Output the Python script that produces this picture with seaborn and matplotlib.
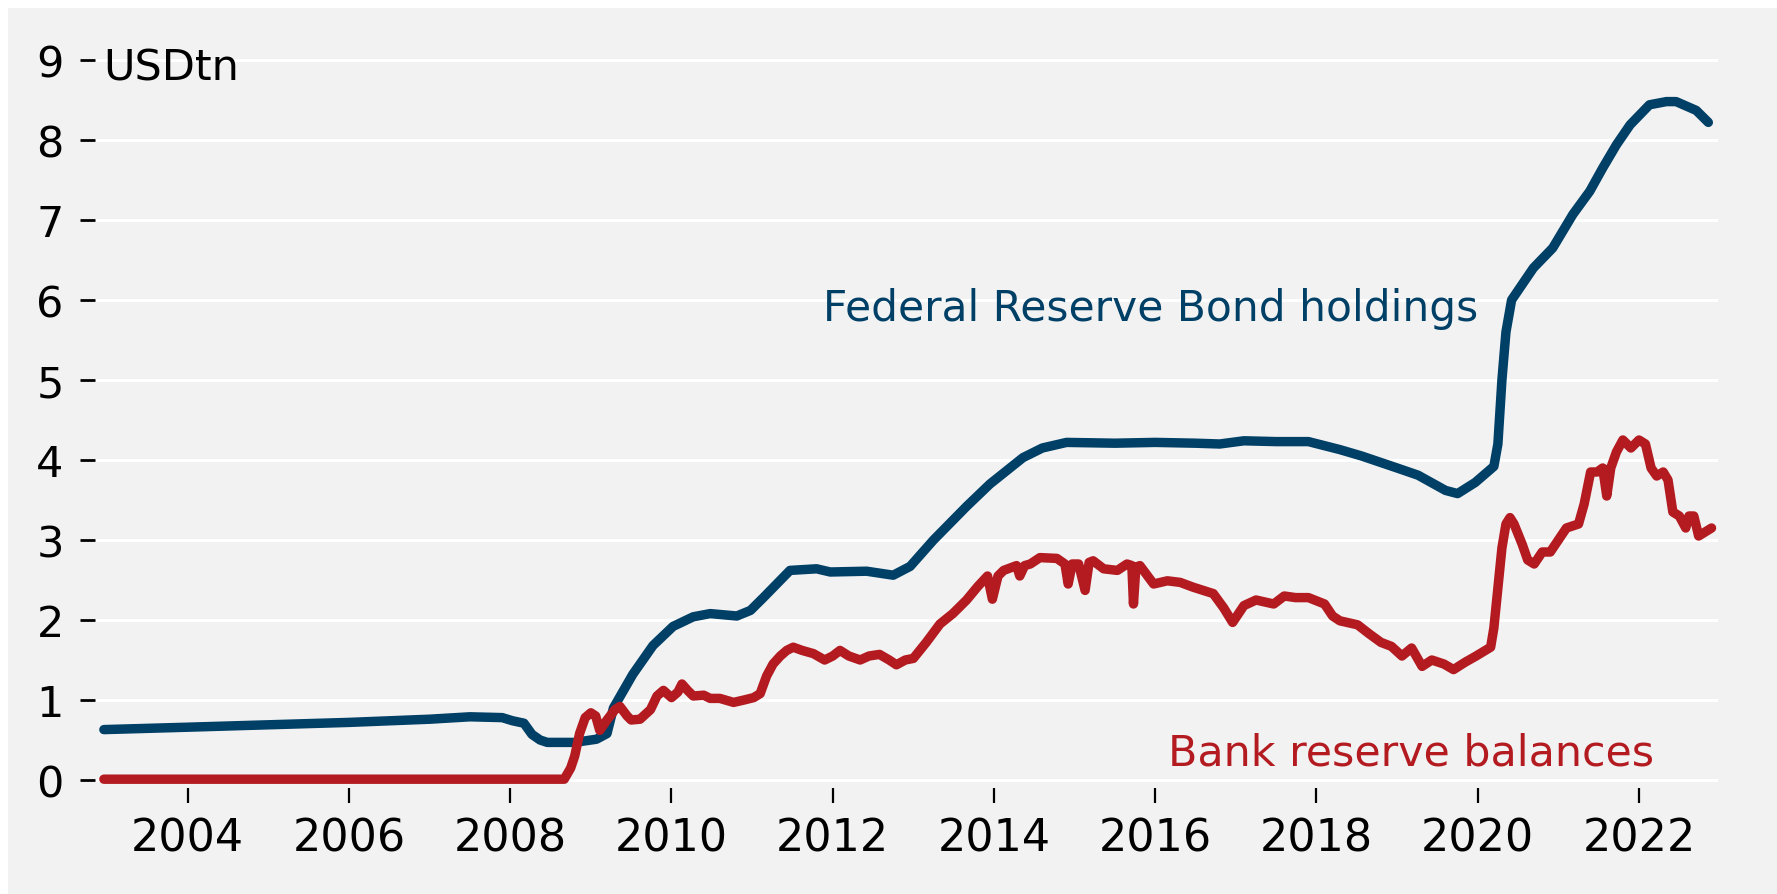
import matplotlib
matplotlib.use("Agg")
import matplotlib.pyplot as plt
import seaborn as sns
import pandas as pd
from matplotlib.patches import Rectangle

# ---- data (decimal years, USD trillion) ----
fed_years = [2002.96, 2004.0, 2005.0, 2006.0, 2007.0, 2007.5, 2007.9, 2008.03, 2008.17,
             2008.27, 2008.37, 2008.46, 2008.8, 2009.07, 2009.2, 2009.28, 2009.52, 2009.77,
             2010.02, 2010.27, 2010.48, 2010.81, 2010.98, 2011.14, 2011.47, 2011.8, 2011.97,
             2012.42, 2012.75, 2012.96, 2013.25, 2013.66, 2013.95, 2014.36, 2014.6, 2014.9,
             2015.5, 2016.0, 2016.5, 2016.8, 2017.1, 2017.5, 2017.9, 2018.29, 2018.56,
             2019.0, 2019.26, 2019.6, 2019.75, 2019.97, 2020.2, 2020.25, 2020.3, 2020.35,
             2020.42, 2020.69, 2020.93, 2021.18, 2021.39, 2021.55, 2021.72, 2021.89,
             2022.13, 2022.34, 2022.46, 2022.71, 2022.86]
fed_values = [0.63, 0.66, 0.69, 0.72, 0.76, 0.79, 0.78, 0.74, 0.71,
              0.57, 0.50, 0.47, 0.47, 0.51, 0.58, 0.90, 1.32, 1.68,
              1.92, 2.04, 2.08, 2.05, 2.12, 2.28, 2.62, 2.64, 2.60,
              2.61, 2.56, 2.67, 3.00, 3.42, 3.70, 4.03, 4.15, 4.22,
              4.21, 4.22, 4.21, 4.20, 4.24, 4.23, 4.23, 4.13, 4.05,
              3.90, 3.81, 3.62, 3.58, 3.72, 3.92, 4.20, 5.00, 5.60,
              6.00, 6.40, 6.65, 7.07, 7.36, 7.65, 7.94, 8.19,
              8.44, 8.48, 8.48, 8.37, 8.22]

bank_years = [2002.96, 2003.5, 2004.0, 2005.0, 2006.0, 2007.0, 2008.0, 2008.67, 2008.75,
              2008.80, 2008.86, 2008.93, 2009.00, 2009.06, 2009.11, 2009.20, 2009.30, 2009.36,
              2009.45, 2009.50, 2009.61, 2009.74, 2009.82, 2009.90, 2010.00, 2010.08, 2010.13,
              2010.20, 2010.27, 2010.40, 2010.48, 2010.60, 2010.77, 2010.90, 2011.02, 2011.10,
              2011.18, 2011.26, 2011.35, 2011.43, 2011.51, 2011.62, 2011.76, 2011.90, 2012.00,
              2012.09, 2012.20, 2012.34, 2012.45, 2012.58, 2012.70, 2012.79, 2012.90, 2013.00,
              2013.16, 2013.33, 2013.49, 2013.66, 2013.80, 2013.92, 2013.98, 2014.05, 2014.12,
              2014.28, 2014.32, 2014.38, 2014.45, 2014.57, 2014.78, 2014.88, 2014.92, 2014.97,
              2015.05, 2015.13, 2015.18, 2015.23, 2015.36, 2015.53, 2015.65, 2015.71, 2015.73,
              2015.76, 2015.81, 2015.98, 2016.15, 2016.31, 2016.47, 2016.72, 2016.85, 2016.96,
              2017.10, 2017.25, 2017.47, 2017.60, 2017.74, 2017.90, 2018.10, 2018.20, 2018.29,
              2018.51, 2018.65, 2018.80, 2018.93, 2019.06, 2019.18, 2019.31, 2019.43, 2019.58,
              2019.70, 2019.84, 2019.98, 2020.16, 2020.20, 2020.25, 2020.30, 2020.35, 2020.40,
              2020.45, 2020.55, 2020.62, 2020.70, 2020.80, 2020.90, 2021.00, 2021.10, 2021.25,
              2021.32, 2021.40, 2021.48, 2021.55, 2021.60, 2021.65, 2021.72, 2021.80, 2021.90,
              2022.00, 2022.08, 2022.15, 2022.22, 2022.30, 2022.36, 2022.42, 2022.50, 2022.58,
              2022.62, 2022.68, 2022.74, 2022.82, 2022.90]
bank_values = [0.01, 0.01, 0.01, 0.01, 0.01, 0.01, 0.01, 0.01, 0.15,
               0.30, 0.58, 0.78, 0.84, 0.80, 0.62, 0.75, 0.88, 0.92,
               0.80, 0.75, 0.76, 0.88, 1.05, 1.12, 1.03, 1.10, 1.20,
               1.12, 1.05, 1.06, 1.02, 1.02, 0.97, 1.00, 1.03, 1.08,
               1.30, 1.45, 1.55, 1.62, 1.66, 1.62, 1.58, 1.50, 1.55,
               1.62, 1.55, 1.50, 1.55, 1.57, 1.50, 1.44, 1.50, 1.52,
               1.72, 1.95, 2.08, 2.25, 2.42, 2.55, 2.26, 2.55, 2.62,
               2.68, 2.55, 2.68, 2.70, 2.78, 2.77, 2.70, 2.45, 2.70,
               2.70, 2.37, 2.72, 2.74, 2.64, 2.62, 2.70, 2.68, 2.20,
               2.66, 2.68, 2.45, 2.49, 2.47, 2.41, 2.33, 2.15, 1.97,
               2.18, 2.25, 2.20, 2.30, 2.28, 2.28, 2.20, 2.05, 1.99,
               1.94, 1.83, 1.72, 1.67, 1.55, 1.65, 1.42, 1.50, 1.45,
               1.38, 1.47, 1.55, 1.66, 1.90, 2.40, 2.90, 3.20, 3.28,
               3.20, 2.95, 2.75, 2.70, 2.85, 2.85, 3.00, 3.15, 3.20,
               3.45, 3.85, 3.85, 3.90, 3.55, 3.90, 4.10, 4.25, 4.15,
               4.25, 4.20, 3.90, 3.80, 3.85, 3.75, 3.35, 3.30, 3.15,
               3.30, 3.30, 3.05, 3.10, 3.15]

x_ticks = [2004, 2006, 2008, 2010, 2012, 2014, 2016, 2018, 2020, 2022]
y_ticks = [0, 1, 2, 3, 4, 5, 6, 7, 8, 9]
fed_label = "Federal Reserve Bond holdings"
bank_label = "Bank reserve balances"
unit_label = "USDtn"

BG = "#f2f2f2"
BLUE = "#003f66"
RED = "#b31b21"

sns.set_theme(style="white")
plt.rcParams["font.family"] = ["DejaVu Sans"]

fig = plt.figure(figsize=(17.77, 8.95), dpi=100, facecolor="white")
fig.patches.append(Rectangle((8 / 1777, 0), 1 - 8 / 1777, (895 - 9) / 895,
                             transform=fig.transFigure, facecolor=BG,
                             edgecolor="none", zorder=-10))
ax = fig.add_axes([95 / 1777, (895 - 789) / 895, (1718 - 95) / 1777, (789 - 53) / 895])
ax.set_zorder(1)
ax.set_facecolor(BG)

fed_df = pd.DataFrame({"year": fed_years, "value": fed_values})
bank_df = pd.DataFrame({"year": bank_years, "value": bank_values})

sns.lineplot(data=fed_df, x="year", y="value", ax=ax, color=BLUE, linewidth=6.8,
             zorder=3)
sns.lineplot(data=bank_df, x="year", y="value", ax=ax, color=RED, linewidth=6.8,
             zorder=4)

ax.set_xlim(2002.85, 2022.98)
ax.set_ylim(-0.1, 9.1)
ax.set_xticks(x_ticks)
ax.set_xticklabels([str(t) for t in x_ticks])
ax.set_yticks(y_ticks)
ax.set_yticklabels([str(t) for t in y_ticks])
ax.set_xlabel("")
ax.set_ylabel("")

for s in ax.spines.values():
    s.set_visible(False)

ax.yaxis.grid(True, color="white", linewidth=2.2)
ax.xaxis.grid(False)
ax.set_axisbelow(True)

ax.tick_params(axis="x", which="major", direction="out", length=10.5, width=1.6,
               color="black", pad=10, labelsize=32, labelcolor="black", bottom=True)
ax.tick_params(axis="y", which="major", direction="out", length=10.5, width=2.0,
               color="black", pad=12, labelsize=31, labelcolor="black", left=True)

ax.text(0.005, 8.76, unit_label, transform=ax.get_yaxis_transform(), ha="left",
        va="baseline", fontsize=31, color="black", zorder=5)
ax.text(2011.88, 5.75, fed_label, ha="left", va="baseline", fontsize=30.5,
        color=BLUE, zorder=5)
ax.text(2016.16, 0.19, bank_label, ha="left", va="baseline", fontsize=30.8,
        color=RED, zorder=5)

fig.savefig("out.png", dpi=100, facecolor=fig.get_facecolor())
